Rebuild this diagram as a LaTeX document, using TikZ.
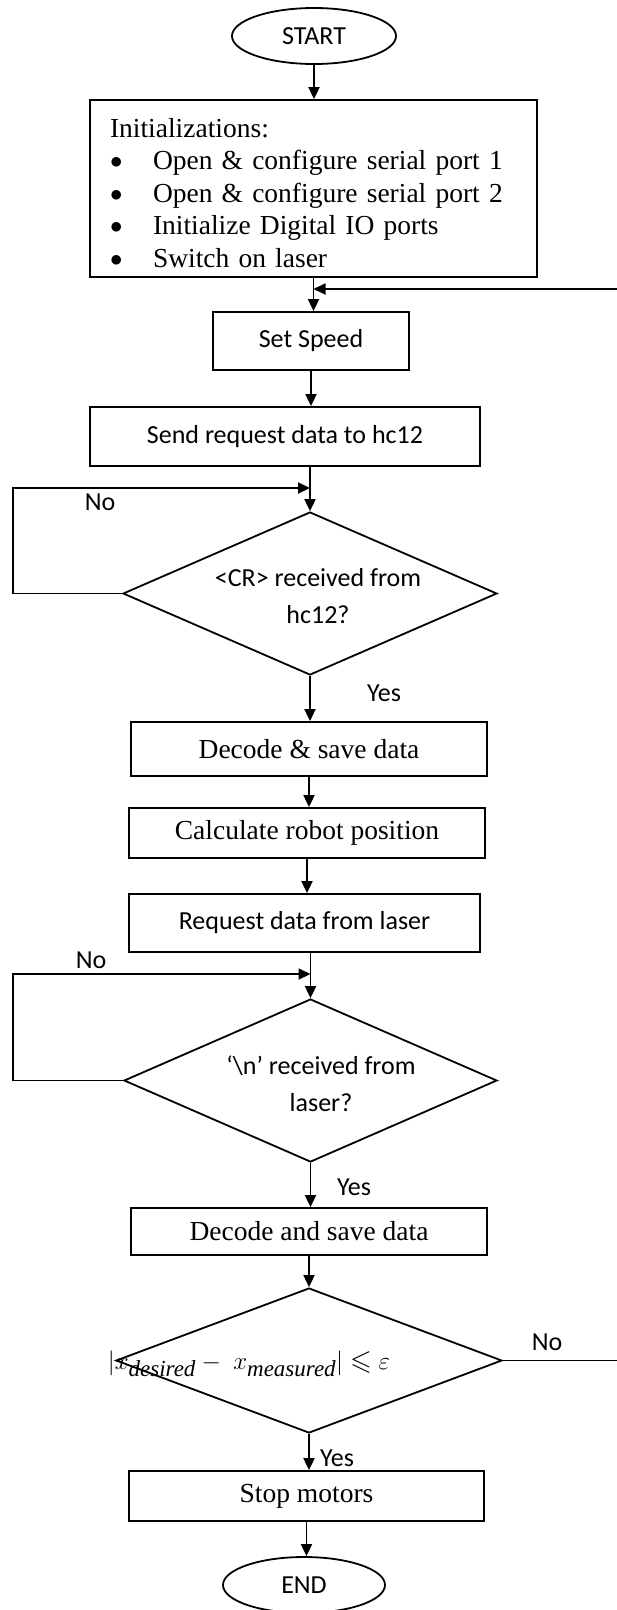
\documentclass[tikz,border=0pt]{standalone}
\usepackage{fontspec}
\usepackage{amsmath}
\usepackage{amssymb}
\setmainfont{Liberation Serif}
\newfontfamily\calibrisf{Carlito}
\usetikzlibrary{arrows.meta,calc,positioning,shapes.geometric}
\newcommand{\serifbig}{\fontsize{27.5}{32.5}\selectfont}
\newcommand{\sfbig}{\calibrisf\fontsize{26}{37}\selectfont}
\newcommand{\blt}{\makebox[43pt][l]{\raisebox{1pt}{\fontsize{36}{36}\selectfont$\bullet$}}}
\newcommand{\subtxt}[1]{\mbox{\fontsize{23}{23}\selectfont\itshape #1}}
\tikzset{
  wire/.style     = {line width=1.8pt},
  arr/.style      = {wire, -{Triangle[length=12pt,width=11pt]}},
  procbox/.style  = {rectangle, draw, line width=1.8pt, inner sep=0pt, font=\serifbig},
  sfbox/.style    = {procbox, font=\sfbig},
  decision/.style = {diamond, draw, line width=1.8pt, inner sep=0pt},
  terminal/.style = {ellipse, draw, line width=1.8pt, inner sep=0pt, font=\sfbig},
  lbl/.style      = {font=\sfbig, inner sep=0pt},
}

\begin{document}
\begin{tikzpicture}[x=1pt,y=-1pt]
  \useasboundingbox (0,0) rectangle (617,1610);

  \node[terminal, minimum width=164pt, minimum height=56pt] (start) at (314,36) {START};
  \node[procbox, minimum height=177pt, text width=407pt, inner xsep=20pt, align=left]
    (init) at (313.5,188.5)
    {\rule{0pt}{28pt}Initializations:\\
     \blt Open \& configure serial port 1\\
     \blt Open \& configure serial port 2\\
     \blt Initialize Digital IO ports\\
     \blt Switch on laser};
  \node[sfbox, minimum width=196pt, minimum height=58pt] (speed) at (311,341) {Set Speed};
  \node[sfbox, minimum width=390pt, minimum height=59pt] (sendreq) at (285,436.5) {Send request data to hc12};

  % first wait loop
  \node[decision, minimum width=374pt, minimum height=163pt] (d1) at (310,593.5) {};
  \node[lbl, align=center] (d1txt) at (318,596) {<CR> received from\\hc12?};

  \node[procbox, minimum width=356pt, minimum height=54pt] (decode) at (309,749) {Decode \& save data};
  \node[procbox, minimum width=356pt, minimum height=50pt] (calc) at (307,833) {Calculate robot position};
  \node[sfbox, minimum width=351pt, minimum height=58pt] (reqlaser) at (304.5,923) {Request data from laser};

  % second wait loop
  \node[decision, minimum width=373pt, minimum height=163pt] (d2) at (310.5,1080.5) {};
  \node[lbl, align=center] (d2txt) at (321,1084) {‘\textbackslash n’ received from\\laser?};

  \node[procbox, minimum width=356pt, minimum height=47pt] (decode2) at (309,1231.5) {Decode and save data};

  \node[decision, minimum width=386pt, minimum height=145pt] (d3) at (309,1360.5) {};
  \node[inner sep=0pt, font=\fontsize{28}{32}\selectfont] (d3txt) at (249,1364)
    {$|x_{\subtxt{desired}} - \; x_{\subtxt{measured}}| \leqslant \varepsilon$};

  \node[procbox, minimum width=355pt, minimum height=50pt] (stop) at (306.5,1496) {Stop motors};
  \node[terminal, minimum width=162pt, minimum height=56pt] (end) at (304,1585) {END};

  \coordinate (j1) at (313.5,289);
  \coordinate (j2) at (310,488);
  \coordinate (j3) at (310.5,974);

  \draw[arr] (start) -- (start |- init.north);
  \draw[arr] (init.south) -- (init.south |- speed.north);
  \draw[arr] (speed.south) -- (speed.south |- sendreq.north);
  \draw[arr] (sendreq.south -| d1.north) -- (d1.north);
  \draw[arr] (d1.south) -- (d1.south |- decode.north);
  \draw[arr] (decode.south) -- (decode.south |- calc.north);
  \draw[arr] (calc.south) -- (calc.south |- reqlaser.north);
  \draw[arr] (reqlaser.south -| d2.north) -- (d2.north);
  \draw[arr] (d2.south) -- (d2.south |- decode2.north);
  \draw[arr] (decode2.south -| d3.north) -- (d3.north);
  \draw[arr] (d3.south) -- (d3.south |- stop.north);
  \draw[arr] (stop.south) -- (stop.south |- end.north);

  % loops back
  \draw[arr] (d1.west) -- ++(-109,0) |- (j2);
  \draw[arr] (d2.west) -- ++(-110,0) |- (j3);
  \draw[arr] (d3.east) -- ++(118,0) |- (j1);

  \node[lbl] (no1) at (100,502) {No};
  \node[lbl] (no2) at (91,960) {No};
  \node[lbl] (no3) at (547,1342) {No};
  \node[lbl] (yes1) at (384,693) {Yes};
  \node[lbl] (yes2) at (354,1187) {Yes};
  \node[lbl] (yes3) at (337,1458) {Yes};
\end{tikzpicture}
\end{document}
